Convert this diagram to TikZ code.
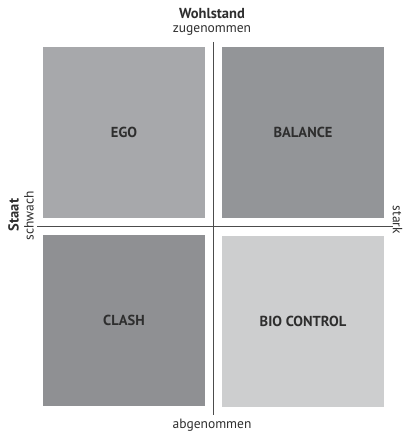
\documentclass[tikz,border=0pt]{standalone}
\usepackage{fontspec}
\setmainfont{PT Sans}
\usepackage{tikz}

\definecolor{egogray}{HTML}{A7A8AB}
\definecolor{balgray}{HTML}{939598}
\definecolor{clashgray}{HTML}{8F9093}
\definecolor{biogray}{HTML}{CDCECF}
\definecolor{labelgray}{HTML}{2E2E2E}

\tikzset{
  field/.style={minimum width=162pt, minimum height=171pt, inner sep=0pt,
    font=\bfseries\fontsize{14.5}{16}\selectfont, text=labelgray},
  axislabel/.style={inner sep=0pt, font=\fontsize{13.5}{15}\selectfont, text=labelgray},
  axistitle/.style={axislabel, font=\bfseries\fontsize{14.5}{16}\selectfont}
}

\begin{document}
\begin{tikzpicture}[x=1pt,y=1pt]
\useasboundingbox (0,0) rectangle (404,432);

\node[field, fill=egogray]   (ego)     at (124,299.5) {EGO};
\node[field, fill=balgray]   (balance) at (303,299.5) {BALANCE};
\node[field, fill=clashgray] (clash)   at (124,111.5) {CLASH};
\node[field, fill=biogray]   (bio)     at (303,110.5) {BIO CONTROL};

\coordinate (top)    at (213,390);
\coordinate (bottom) at (213,17);
\coordinate (left)   at (37,205);
\coordinate (right)  at (393,205);
\draw[line width=1pt, black!70] (top) -- (bottom);
\draw[line width=1pt, black!70] (left) -- (right);

\node[axistitle] (wohl) at (212,418) {Wohlstand};
\node[axislabel] (zu)   at (212,402) {zugenommen};
\node[axislabel] (ab)   at (212,7)   {abgenommen};
\node[axistitle, rotate=90]  (staat)   at (13.5,217) {Staat};
\node[axislabel, rotate=90]  (schwach) at (29,216) {schwach};
\node[axislabel, rotate=-90] (stark)   at (397.5,212) {stark};
\end{tikzpicture}
\end{document}
